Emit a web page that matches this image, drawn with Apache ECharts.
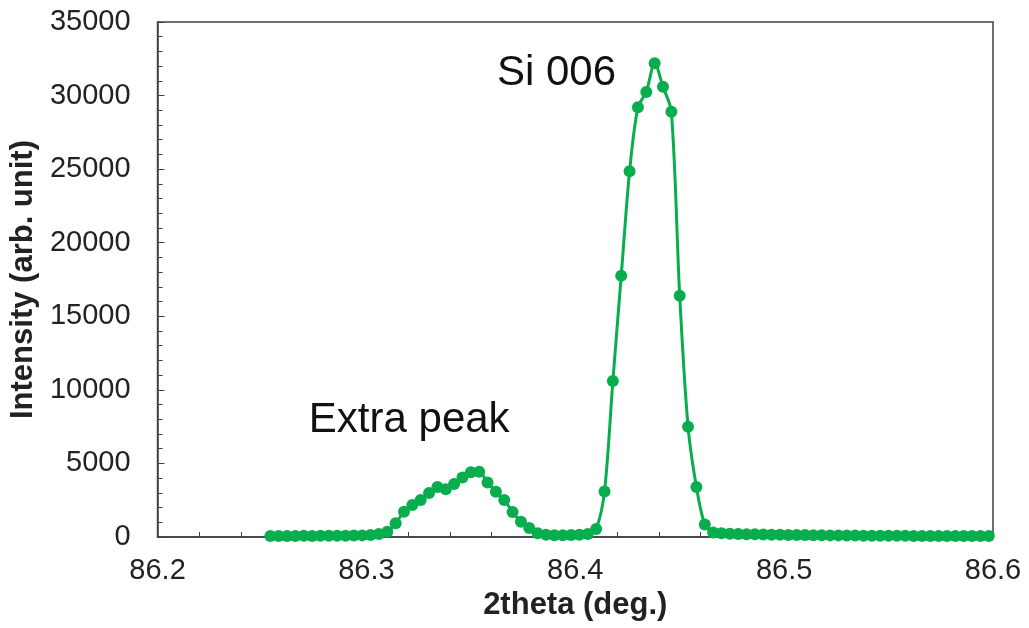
<!DOCTYPE html>
<html>
<head>
<meta charset="utf-8">
<script src="https://cdn.jsdelivr.net/npm/echarts@6/dist/echarts.min.js"></script>
<style>html,body{margin:0;padding:0;background:#fff}#c{width:1029px;height:628px}</style>
</head>
<body>
<div id="c"></div>
<script>
var twoTheta = [
  86.254, 86.258, 86.262, 86.266, 86.270, 86.274, 86.278, 86.282, 86.286, 86.290,
  86.294, 86.298, 86.302, 86.306, 86.310, 86.314, 86.318, 86.322, 86.326, 86.330,
  86.334, 86.338, 86.342, 86.346, 86.350, 86.354, 86.358, 86.362, 86.366, 86.370,
  86.374, 86.378, 86.382, 86.386, 86.390, 86.394, 86.398, 86.402, 86.406, 86.410,
  86.414, 86.418, 86.422, 86.426, 86.430, 86.434, 86.438, 86.442, 86.446, 86.450,
  86.454, 86.458, 86.462, 86.466, 86.470, 86.474, 86.478, 86.482, 86.486, 86.490,
  86.494, 86.498, 86.502, 86.506, 86.510, 86.514, 86.518, 86.522, 86.526, 86.530,
  86.534, 86.538, 86.542, 86.546, 86.550, 86.554, 86.558, 86.562, 86.566, 86.570,
  86.574, 86.578, 86.582, 86.586, 86.590, 86.594, 86.598
];
var intensity = [
  60, 70, 60, 70, 80, 70, 80, 90, 80, 90,
  100, 110, 130, 200, 350, 930, 1720, 2180, 2520, 2990,
  3400, 3250, 3600, 4050, 4400, 4430, 3700, 3080, 2520, 1700,
  1040, 610, 250, 150, 120, 120, 130, 150, 200, 550,
  3100, 10600, 17750, 24850, 29200, 30250, 32200, 30600, 28900, 16400,
  7500, 3400, 850, 300, 250, 220, 200, 190, 180, 170,
  160, 150, 140, 140, 130, 120, 120, 110, 110, 100,
  100, 90, 90, 90, 80, 80, 80, 70, 70, 70,
  70, 60, 60, 60, 60, 60, 60
];
var xTicks = [86.2, 86.3, 86.4, 86.5, 86.6];
var yTicks = [0, 5000, 10000, 15000, 20000, 25000, 30000, 35000];
var noteTexts = ['Si 006', 'Extra peak'];
var noteX = [86.391, 86.3205];
var noteY = [31500, 7900];

var FONT = '"Liberation Sans", Arial, sans-serif';
var GREEN = '#08ae4e';
var AXIS = '#404040';

var seriesData = twoTheta.map(function (x, i) { return [x, intensity[i]]; });
var notes = noteTexts.map(function (t, i) {
  return { coord: [noteX[i], noteY[i]], value: t };
});

var chart = echarts.init(document.getElementById('c'), null, { renderer: 'canvas' });
chart.setOption({
  animation: false,
  backgroundColor: '#fff',
  grid: { left: 153, right: 36, top: 22, bottom: 91, show: true, borderColor: AXIS, borderWidth: 1.5, backgroundColor: 'transparent' },
  xAxis: {
    type: 'value',
    min: xTicks[0], max: xTicks[xTicks.length - 1], interval: 0.1,
    axisLine: { show: true, lineStyle: { color: AXIS, width: 1.5 } },
    axisTick: { show: true, inside: true, length: 5, lineStyle: { color: AXIS, width: 1 } },
    minorTick: { show: true, splitNumber: 5, length: 5, lineStyle: { color: AXIS, width: 1 } },
    splitLine: { show: false },
    axisLabel: { fontFamily: FONT, fontSize: 29, color: '#222', margin: 19,
      formatter: function (v) { return v.toFixed(1); } },
    name: '2theta (deg.)', nameLocation: 'middle', nameGap: 53,
    nameTextStyle: { fontFamily: FONT, fontSize: 31, fontWeight: 'bold', color: '#222' }
  },
  yAxis: {
    type: 'value',
    min: yTicks[0], max: yTicks[yTicks.length - 1], interval: 5000,
    axisLine: { show: true, lineStyle: { color: AXIS, width: 1.5 } },
    axisTick: { show: true, inside: true, length: 7, lineStyle: { color: AXIS, width: 1 } },
    minorTick: { show: true, splitNumber: 5, length: 5, lineStyle: { color: AXIS, width: 1 } },
    splitLine: { show: false },
    axisLabel: { fontFamily: FONT, fontSize: 29, color: '#222', margin: 27,
      formatter: function (v) { return String(v); } },
    name: 'Intensity (arb. unit)', nameLocation: 'middle', nameGap: 113,
    nameTextStyle: { fontFamily: FONT, fontSize: 31, fontWeight: 'bold', color: '#222' }
  },
  series: [{
    type: 'line',
    data: seriesData,
    smooth: 0.3,
    symbol: 'circle',
    symbolSize: 12,
    showAllSymbol: true,
    lineStyle: { color: GREEN, width: 3 },
    itemStyle: { color: GREEN },
    markPoint: {
      symbol: 'circle', symbolSize: 0,
      label: { show: true, position: 'inside', fontFamily: FONT, fontSize: 42, color: '#111',
        formatter: function (p) { return p.value; } },
      data: notes
    }
  }]
});
</script>
</body>
</html>
